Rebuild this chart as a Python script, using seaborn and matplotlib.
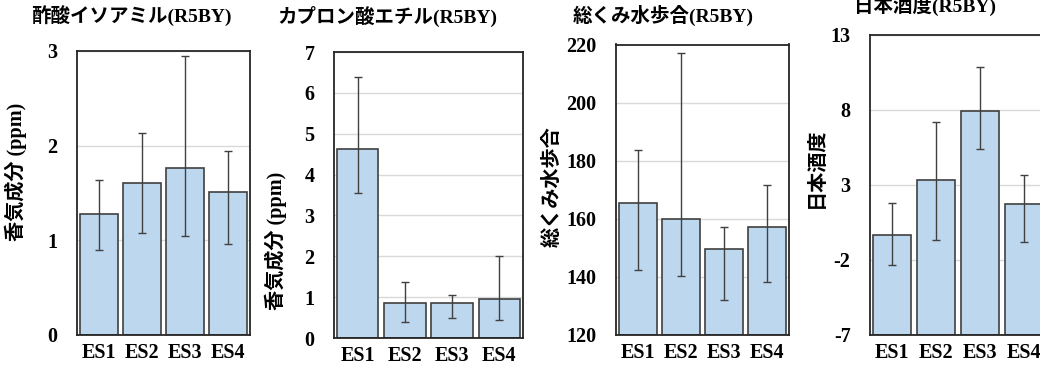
import numpy as np
import pandas as pd
import matplotlib
matplotlib.use("Agg")
import matplotlib.pyplot as plt
import seaborn as sns

# ---------------- data ----------------
categories = ["ES1", "ES2", "ES3", "ES4"]

isoamyl_mean = [1.28, 1.61, 1.76, 1.51]
isoamyl_low = [0.90, 1.08, 1.05, 0.96]
isoamyl_high = [1.64, 2.13, 2.95, 1.94]

caproate_mean = [4.63, 0.86, 0.86, 0.96]
caproate_low = [3.55, 0.39, 0.49, 0.43]
caproate_high = [6.40, 1.37, 1.05, 2.00]

water_mean = [165.3, 159.8, 149.7, 157.3]
water_low = [142.4, 140.3, 132.1, 138.3]
water_high = [183.7, 217.2, 157.3, 171.6]

smv_mean = [-0.33, 3.30, 7.95, 1.72]
smv_low = [-2.33, -0.70, 5.37, -0.84]
smv_high = [1.75, 7.19, 10.84, 3.68]

titles = ["酢酸イソアミル(R5BY)", "カプロン酸エチル(R5BY)", "総くみ水歩合(R5BY)", "日本酒度(R5BY)"]
ylabels = ["香気成分 (ppm)", "香気成分 (ppm)", "総くみ水歩合", "日本酒度"]
yticks_list = [[0, 1, 2, 3], [0, 1, 2, 3, 4, 5, 6, 7], [120, 140, 160, 180, 200, 220], [-7, -2, 3, 8, 13]]

# ---------------- style ----------------
sns.set_theme(style="white")
plt.rcParams["font.family"] = ["Liberation Serif", "Noto Sans CJK JP"]

W, H = 1040, 367
fig = plt.figure(figsize=(W / 100, H / 100), dpi=100)

BAR = "#BDD7EE"
EDGE = "#404040"
FONT = ["Liberation Serif", "Noto Sans CJK JP"]

# pixel boxes: left, right, top, bottom
boxes = [(77, 250, 51, 335), (334, 523, 52, 338), (616, 789, 44.5, 335), (870, 1046, 35, 334.5)]
title_pos = [(131.5, 16), (387.5, 16), (663, 15), (925, 5)]
ylabel_pos = [(15.7, 172), (275.5, 241), (552.5, 187), (817, 168)]

panels = [
    (isoamyl_mean, isoamyl_low, isoamyl_high),
    (caproate_mean, caproate_low, caproate_high),
    (water_mean, water_low, water_high),
    (smv_mean, smv_low, smv_high),
]

for i, (mean, low, high) in enumerate(panels):
    l, r, t, b = boxes[i]
    ax = fig.add_axes([l / W, (H - b) / H, (r - l) / W, (b - t) / H])
    ticks = yticks_list[i]
    ymin, ymax = ticks[0], ticks[-1]
    mean = np.asarray(mean, dtype=float)
    df = pd.DataFrame({"cat": categories, "height": mean - ymin})
    sns.barplot(data=df, x="cat", y="height", ax=ax, color=BAR, saturation=1,
                width=0.88, edgecolor=EDGE, linewidth=1.2, errorbar=None,
                bottom=ymin, zorder=2)
    yerr = np.vstack([mean - np.asarray(low), np.asarray(high) - mean])
    ax.errorbar(np.arange(len(categories)), mean, yerr=yerr, fmt="none",
                ecolor=EDGE, elinewidth=1.0, capsize=3, capthick=1.0, zorder=3)
    ax.set_xlim(-0.5, len(categories) - 0.5)
    ax.set_ylim(ymin, ymax)
    ax.set_yticks(ticks)
    ax.set_yticklabels([str(v) for v in ticks])
    ax.set_xlabel("")
    ax.set_ylabel("")
    ax.yaxis.grid(True, color="#D9D9D9", linewidth=1.0, zorder=0)
    ax.xaxis.grid(False)
    ax.set_axisbelow(True)
    for sp in ax.spines.values():
        sp.set_visible(True)
        sp.set_color("#262626")
        sp.set_linewidth(1.3)
    ax.tick_params(axis="y", length=0, pad=14, labelsize=14.5)
    ax.tick_params(axis="x", length=0, pad=6, labelsize=14.5)
    for lab in ax.get_xticklabels() + ax.get_yticklabels():
        lab.set_fontweight("bold")
        lab.set_family(FONT)
        lab.set_color("black")

    tx, ty = title_pos[i]
    fig.text(tx / W, 1 - ty / H, titles[i], ha="center", va="center",
             fontsize=14, fontweight="bold", family=FONT, color="black")
    lx, ly = ylabel_pos[i]
    fig.text(lx / W, 1 - ly / H, ylabels[i], ha="center", va="center", rotation=90,
             fontsize=14.5, fontweight="bold", family=FONT, color="black")

fig.savefig("out.png", dpi=100)
